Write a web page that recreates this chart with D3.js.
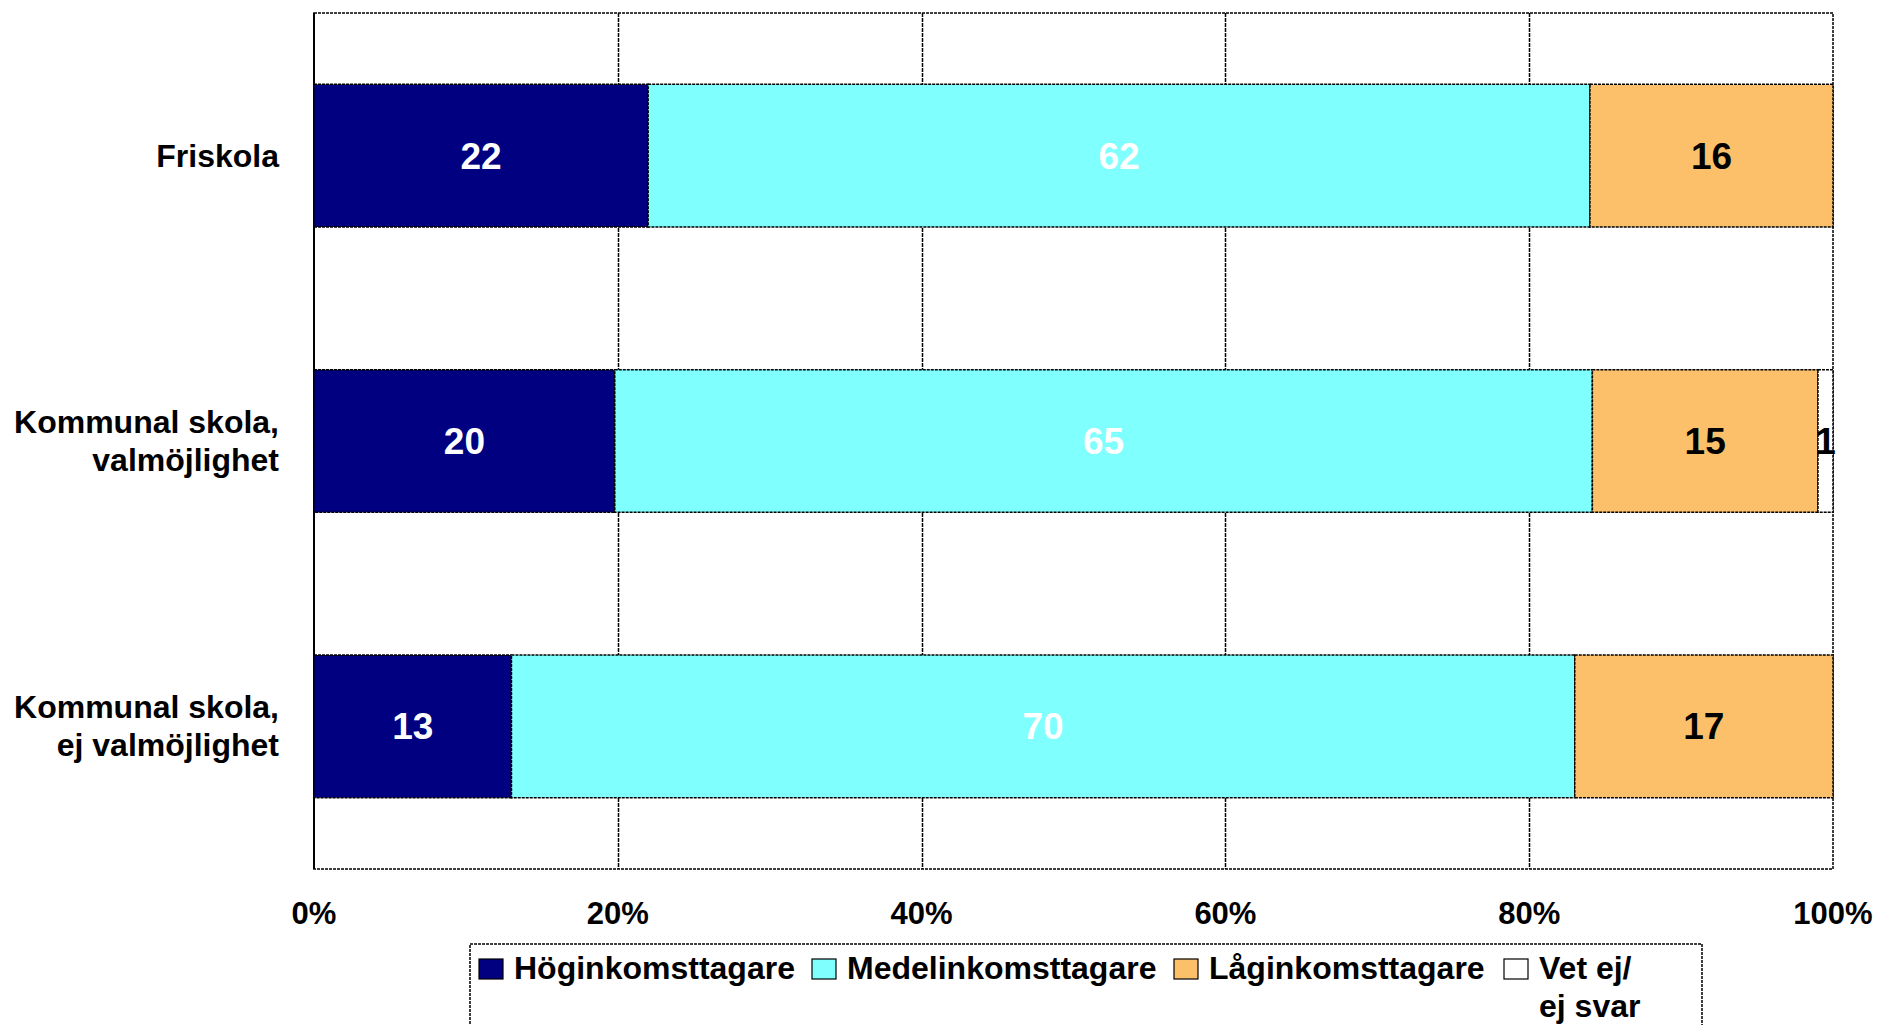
<!DOCTYPE html>
<html><head><meta charset="utf-8">
<script src="https://cdn.jsdelivr.net/npm/d3@7"></script>
<style>
html,body{margin:0;padding:0;background:#fff;}
text{font-family:"Liberation Sans",Arial,sans-serif;font-weight:bold;}
</style></head>
<body>
<svg id="chart" width="1879" height="1025"></svg>
<script>
const categories = ["Friskola", "Kommunal skola,\nvalmöjlighet", "Kommunal skola,\nej valmöjlighet"];
const seriesNames = ["Höginkomsttagare", "Medelinkomsttagare", "Låginkomsttagare", "Vet ej/\nej svar"];
const hog = [22, 20, 13];
const medel = [62, 65, 70];
const lag = [16, 15, 17];
const vetej = [0, 1, 0];
const tickLabels = ["0%", "20%", "40%", "60%", "80%", "100%"];
const tickValues = [0, 0.2, 0.4, 0.6, 0.8, 1];
const colors = ["#000080", "#80FFFF", "#FCBF6A", "#FFFFFF"];
const labelColors = ["#fff", "#fff", "#000", "#000"];

const svg = d3.select("#chart");
const L = 314, R = 1833, T = 13, B = 869;
const x = d3.scaleLinear().domain([0, 1]).range([L, R]);
const y = d3.scaleBand().domain(categories).range([T, B]).paddingInner(0.5).paddingOuter(0.25);

const allSeries = [hog, medel, lag, vetej];
const rows = categories.map((c, i) => {
  const vals = allSeries.map(s => s[i]);
  const total = d3.sum(vals);
  let acc = 0;
  return vals.map((v, k) => {
    const seg = {cat: c, k, v, x0: acc / total, x1: (acc + v) / total};
    acc += v;
    return seg;
  });
});

const dash = "3,1";
// gridlines
svg.append("g").selectAll("line").data(tickValues.slice(1, -1)).join("line")
  .attr("x1", d => Math.round(x(d)) + 0.5).attr("x2", d => Math.round(x(d)) + 0.5).attr("y1", T).attr("y2", B)
  .attr("stroke", "#000").attr("stroke-width", 1.5).attr("stroke-dasharray", "4,1");

// plot border
svg.append("rect").attr("x", L).attr("y", T).attr("width", R - L).attr("height", B - T)
  .attr("fill", "none").attr("stroke", "#000").attr("stroke-width", 1.5).attr("stroke-dasharray", dash);
svg.append("line").attr("x1", L).attr("x2", L).attr("y1", T).attr("y2", B)
  .attr("stroke", "#000").attr("stroke-width", 2);

// bars
const segs = rows.flat().filter(d => d.v > 0);
svg.append("g").selectAll("rect").data(segs).join("rect")
  .attr("x", d => x(d.x0)).attr("y", d => y(d.cat))
  .attr("width", d => x(d.x1) - x(d.x0)).attr("height", y.bandwidth())
  .attr("fill", d => colors[d.k]).attr("stroke", "#000").attr("stroke-width", 1.5)
  .attr("stroke-dasharray", dash);

// data labels
svg.append("g").selectAll("text").data(segs).join("text")
  .attr("x", d => (x(d.x0) + x(d.x1)) / 2)
  .attr("y", d => y(d.cat) + y.bandwidth() / 2 + 13)
  .attr("text-anchor", "middle").attr("font-size", 37)
  .attr("fill", d => labelColors[d.k]).text(d => d.v);

// category labels
categories.forEach(c => {
  const lines = c.split("\n");
  const cy = y(c) + y.bandwidth() / 2;
  const lh = 38;
  const start = cy + 11 - (lines.length - 1) * lh / 2;
  const t = svg.append("text").attr("text-anchor", "end").attr("font-size", 32).attr("fill", "#000");
  lines.forEach((ln, i) => t.append("tspan").attr("x", 279).attr("y", start + i * lh).text(ln));
});

// x tick labels
svg.append("g").selectAll("text").data(tickValues).join("text")
  .attr("x", d => x(d)).attr("y", 924).attr("text-anchor", "middle")
  .attr("font-size", 31).attr("fill", "#000").text((d, i) => tickLabels[i]);

// legend
svg.append("rect").attr("x", 470).attr("y", 944).attr("width", 1232).attr("height", 100)
  .attr("fill", "#fff").attr("stroke", "#000").attr("stroke-width", 1.5).attr("stroke-dasharray", dash);
const legX = [479, 812, 1174, 1504];
seriesNames.forEach((s, i) => {
  svg.append("rect").attr("x", legX[i]).attr("y", 959).attr("width", 24).attr("height", 20)
    .attr("fill", colors[i]).attr("stroke", "#000").attr("stroke-width", 1.2);
  const t = svg.append("text").attr("font-size", 32).attr("fill", "#000");
  s.split("\n").forEach((ln, j) => t.append("tspan").attr("x", legX[i] + 35).attr("y", 979 + j * 38).text(ln));
});
</script>
</body></html>
